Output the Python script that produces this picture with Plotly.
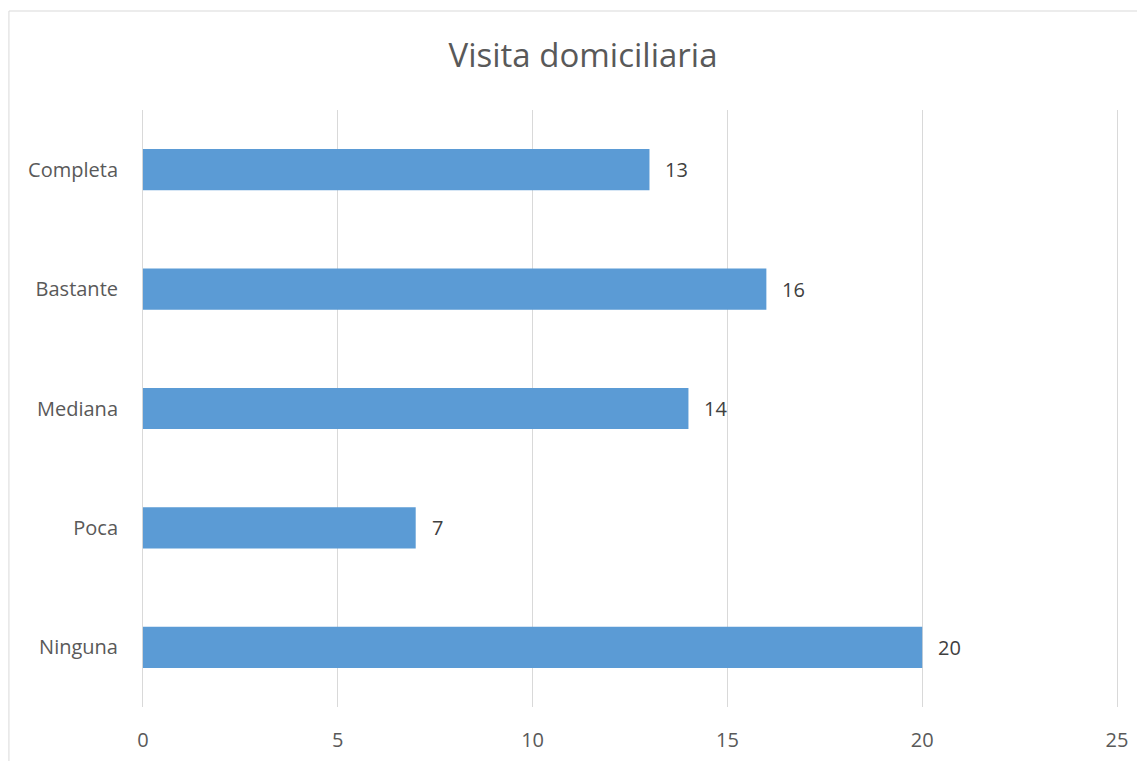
import plotly.graph_objects as go

categories = ["Ninguna", "Poca", "Mediana", "Bastante", "Completa"]
values = [20, 7, 14, 16, 13]
x_ticks = [0, 5, 10, 15, 20, 25]
title_text = "Visita domiciliaria"

FONT = "'Open Sans', sans-serif"

# page offset (body margin) of 8px is compensated
OFF = 8
W, H = 1145 - OFF, 761 - OFF
pad = 0.05
px_per_unit = 974 / 25
left = 143 - OFF - pad * px_per_unit
right = 1117 - OFF + pad * px_per_unit
top = 110 - OFF
bottom = 707 - OFF

fig = go.Figure()
fig.add_trace(go.Bar(
    y=categories, x=values, orientation="h",
    marker=dict(color="#5b9bd5", line=dict(width=0)),
    hoverinfo="skip",
))

for c, v in zip(categories, values):
    fig.add_annotation(x=v, y=c, text=str(v), showarrow=False,
                       xanchor="left", xshift=14,
                       font=dict(family=FONT, size=20, color="#404040"))

pw = right - left
ph = bottom - top
fig.add_shape(type="rect", xref="paper", yref="paper",
              x0=(9 - OFF - left) / pw, x1=1.1, y0=-0.2, y1=1 + (top - (11 - OFF)) / ph,
              line=dict(color="#d9d9d9", width=1), fillcolor="rgba(0,0,0,0)", layer="below")

fig.update_layout(
    width=W, height=H,
    margin=dict(l=left, r=W - right, t=top, b=H - bottom, pad=0, autoexpand=False),
    paper_bgcolor="white", plot_bgcolor="white",
    bargap=0.655,
    showlegend=False,
    title=dict(text=title_text, x=(583 - OFF) / W, xref="container", xanchor="center",
               y=1 - (55 - OFF) / H, yref="container", yanchor="middle",
               automargin=False,
               font=dict(family=FONT, size=33, color="#595959")),
    font=dict(family=FONT, size=20, color="#595959"),
    xaxis=dict(range=[-pad, 25 + pad], tickvals=x_ticks, showgrid=True, gridcolor="#d9d9d9",
               gridwidth=1, zeroline=False, showline=False, ticks="", automargin=False,
               ticklabelstandoff=19, tickfont=dict(size=20, color="#595959")),
    yaxis=dict(showgrid=False, zeroline=False, showline=False, ticks="", automargin=False,
               ticklabelstandoff=22, tickfont=dict(size=20, color="#595959")),
)

fig.write_html("out.html")
